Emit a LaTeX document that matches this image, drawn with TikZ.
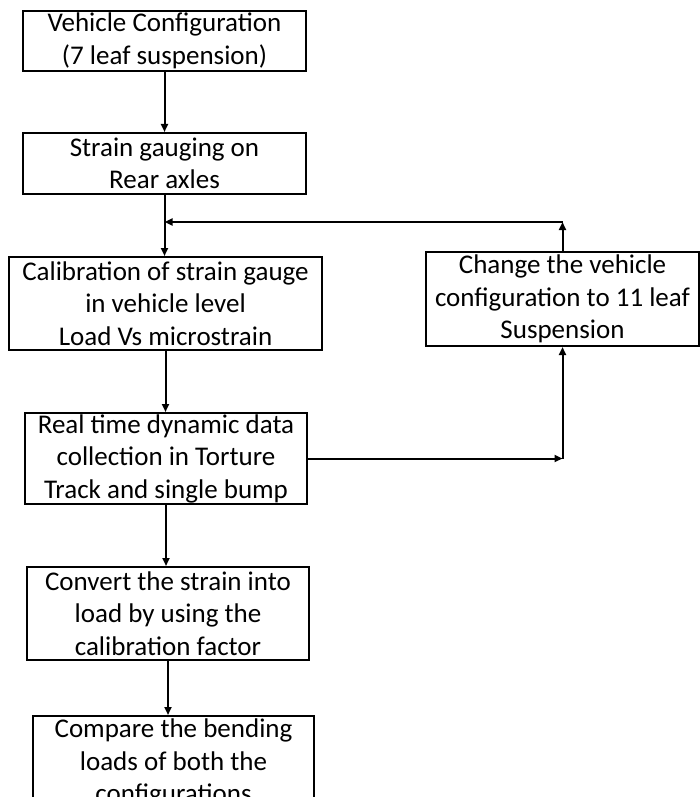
\documentclass[tikz,border=0pt]{standalone}
\usepackage{fontspec}
\setmainfont{Carlito}
\usetikzlibrary{arrows.meta,positioning}

\begin{document}
\begin{tikzpicture}[
  x=1pt,y=-1pt,
  font=\fontsize{27}{32.5}\selectfont,
  stepbox/.style={rectangle,draw,line width=2pt,align=center,inner sep=1pt,
                minimum width=282pt,minimum height=92pt},
  arr/.style={-{Triangle[length=8pt,width=7pt]},line width=2pt}
]
\useasboundingbox (0,0) rectangle (699,797);
\node[stepbox,minimum width=283pt,minimum height=60pt] at (164.5,41) (veh) {Vehicle Configuration\\(7 leaf suspension)};
\node[stepbox,minimum width=283pt,minimum height=61pt,below=60pt of veh] (gauge) {Strain gauging on\\Rear axles};
\node[stepbox,minimum width=313pt,minimum height=93pt,below=61pt of gauge,xshift=1pt] (calib) {Calibration of strain gauge\\in vehicle level\\Load Vs microstrain};
\node[stepbox,minimum height=91pt,below=61pt of calib,xshift=0.5pt] (rtd) {Real time dynamic data\\collection in Torture\\Track and single bump};
\node[stepbox,minimum height=93pt,below=61pt of rtd,xshift=2pt] (conv) {Convert the strain into\\load by using the\\calibration factor};
\node[stepbox,minimum width=281pt,minimum height=94pt,below=54pt of conv,xshift=5.5pt] (comp) {Compare the bending\\loads of both the\\configurations};
\node[stepbox,minimum width=273pt,minimum height=94pt] at (562.5,299) (chg) {Change the vehicle\\configuration to 11 leaf\\Suspension};

\coordinate (jn) at (gauge.south |- 0,222);
\coordinate (ctop) at (chg.north |- 0,222);
\coordinate (cbot) at (chg.south |- rtd.east);

\draw[arr](veh.south)--(veh.south |- gauge.north);
\draw[arr](gauge.south)--(gauge.south |- calib.north);
\draw[arr](calib.south)--(calib.south |- rtd.north);
\draw[arr](rtd.south)--(rtd.south |- conv.north);
\draw[arr](conv.south)--(conv.south |- comp.north);
\draw[arr](rtd.east)--(cbot);
\draw[arr](cbot)--(chg.south);
\draw[arr](chg.north)--(ctop);
\draw[arr](ctop)--(jn);
\end{tikzpicture}
\end{document}
